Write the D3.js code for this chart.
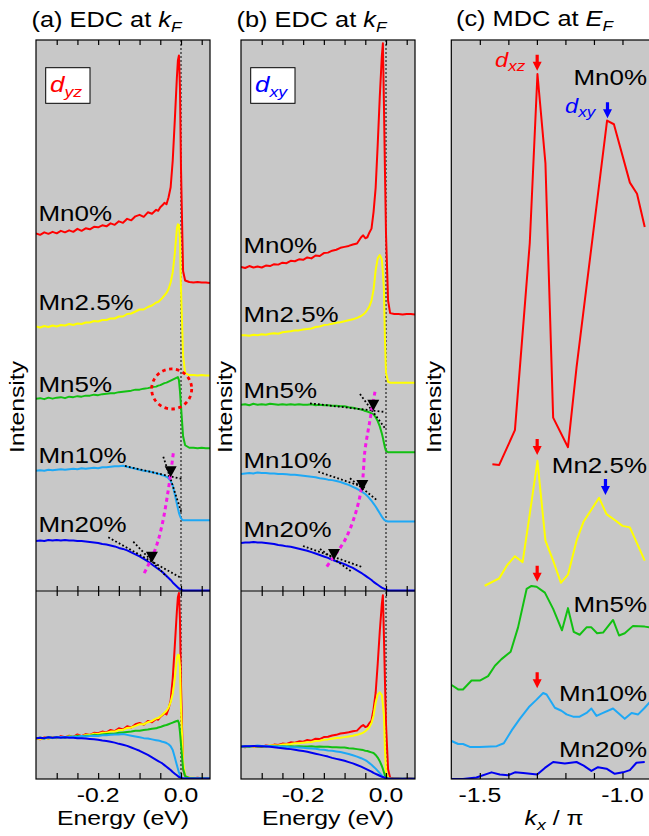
<!DOCTYPE html>
<html>
<head>
<meta charset="utf-8">
<script src="https://cdn.jsdelivr.net/npm/d3@7"></script>
<style>
  body { margin: 0; background: #fff; }
  svg { display: block; }
  text { font-family: "Liberation Sans", Arial, Helvetica, sans-serif; white-space: pre; }
</style>
</head>
<body>
<svg id="fig" width="649" height="836"></svg>
<script>
// ---------------- data ----------------
// binding energy grid (eV) shared by every EDC
const edcEnergies = [-0.35,-0.34,-0.33,-0.32,-0.31,-0.30,-0.29,-0.28,-0.27,-0.26,
  -0.25,-0.24,-0.23,-0.22,-0.21,-0.20,-0.19,-0.18,-0.17,-0.16,
  -0.15,-0.14,-0.13,-0.12,-0.11,-0.10,-0.09,-0.08,-0.07,-0.06,
  -0.055,-0.05,-0.045,-0.04,-0.035,-0.03,-0.025,-0.02,-0.015,
  -0.01,-0.0075,-0.005,-0.0025,0,
  0.005,0.01,
  0.02,0.03,0.04,0.05,0.06,0.07];

const dopingLabels = ["Mn0%", "Mn2.5%", "Mn5%", "Mn10%", "Mn20%"];

// EDCs at kF, d_yz band (normalised at -0.35 eV)
const edcDyzMn0 = [1.00,0.97,1.02,0.99,1.03,1.00,1.05,1.02,1.06,1.03, 1.09,1.05,1.10,1.08,1.13,1.12,1.16,1.14,1.20,1.17, 1.24,1.21,1.29,1.26,1.34,1.37,1.33,1.42,1.39,1.47, 1.45,1.52,1.56,1.61,1.58,1.72,1.92,2.45,3.25, 4.10,4.45,4.55,3.90,2.30, 0.25,0.06, 0.03,0.02,0.03,0.02,0.02,0.01];
const edcDyzMn2p5 = [1.00,0.98,1.01,0.99,1.02,1.00,1.03,1.02,1.05,1.03, 1.06,1.05,1.08,1.08,1.11,1.10,1.13,1.13,1.16,1.16, 1.20,1.20,1.25,1.26,1.30,1.34,1.34,1.39,1.42,1.48, 1.49,1.53,1.57,1.62,1.67,1.75,1.88,2.08,2.45, 2.95,3.04,3.03,2.75,1.75, 0.42,0.07, 0.03,0.03,0.02,0.03,0.02,0.02];
const edcDyzMn5 = [1.00,1.01,0.99,1.02,1.00,1.02,1.03,1.01,1.04,1.03, 1.05,1.04,1.06,1.06,1.08,1.07,1.09,1.10,1.11,1.11, 1.13,1.14,1.15,1.16,1.18,1.18,1.20,1.21,1.23,1.24, 1.26,1.27,1.29,1.31,1.32,1.34,1.36,1.38,1.40, 1.42,1.43,1.37,1.15,0.85, 0.25,0.07, 0.02,0.02,0.01,0.02,0.01,0.01];
const edcDyzMn10 = [1.00,1.01,1.00,1.02,1.01,1.02,1.03,1.02,1.03,1.04, 1.03,1.05,1.04,1.05,1.06,1.05,1.07,1.07,1.08,1.09, 1.09,1.10,1.08,1.06,1.04,1.02,1.00,0.99,0.97,0.95, 0.94,0.93,0.91,0.90,0.88,0.85,0.80,0.71,0.53, 0.34,0.25,0.16,0.10,0.05, 0.01,0.01, 0.01,0.01,0.01,0.01,0.01,0.01];
const edcDyzMn20 = [1.00,1.01,1.00,1.02,1.01,1.02,1.01,1.02,1.01,1.01, 1.00,1.00,0.99,0.98,0.97,0.96,0.94,0.93,0.91,0.89, 0.86,0.84,0.81,0.77,0.73,0.69,0.64,0.59,0.53,0.47, 0.44,0.41,0.38,0.34,0.30,0.26,0.22,0.17,0.13, 0.09,0.07,0.05,0.04,0.03, 0.01,0.01, 0.01,0.01,0.01,0.01,0.01,0.01];

// EDCs at kF, d_xy band
const edcDxyMn0 = [1.00,0.98,1.02,0.99,1.01,0.99,1.03,1.02,1.06,1.05, 1.09,1.08,1.13,1.12,1.16,1.15,1.20,1.18,1.24,1.23, 1.29,1.30,1.34,1.36,1.40,1.42,1.44,1.47,1.49,1.62, 1.66,1.60,1.62,1.72,1.80,2.15,2.65,3.55,4.55, 5.40,5.66,4.40,3.00,1.70, 0.30,0.04, 0.02,0.02,0.01,0.02,0.02,0.01];
const edcDxyMn2p5 = [1.00,1.00,0.99,1.01,1.00,1.02,1.01,1.03,1.04,1.03, 1.06,1.07,1.08,1.10,1.10,1.12,1.13,1.14,1.17,1.18, 1.21,1.22,1.24,1.26,1.27,1.29,1.31,1.33,1.36,1.40, 1.43,1.47,1.53,1.60,1.72,1.95,2.35,2.60,2.67, 2.58,2.30,1.95,0.90,0.22, 0.03,0.01, 0.01,0.01,0.01,0.01,0.01,0.01];
const edcDxyMn5 = [1.00,1.01,0.99,1.02,1.00,1.01,1.00,1.02,1.01,1.00, 1.01,1.00,1.01,1.00,1.01,1.00,1.00,1.01,0.99,1.00, 0.99,0.99,0.98,0.98,0.97,0.97,0.95,0.94,0.92,0.90, 0.89,0.87,0.86,0.84,0.82,0.80,0.74,0.66,0.55, 0.40,0.31,0.21,0.11,0.04, 0.01,0.01, 0.01,0.01,0.01,0.01,0.01,0.01];
const edcDxyMn10 = [1.00,1.01,1.02,1.01,1.03,1.02,1.02,1.01,1.01,1.00, 1.00,0.99,0.98,0.98,0.97,0.96,0.95,0.94,0.93,0.91, 0.90,0.88,0.87,0.85,0.83,0.80,0.77,0.73,0.69,0.64, 0.61,0.58,0.54,0.49,0.44,0.38,0.32,0.25,0.18, 0.11,0.08,0.05,0.03,0.02, 0.01,0.01, 0.01,0.01,0.01,0.01,0.01,0.01];
const edcDxyMn20 = [1.00,1.01,1.01,1.02,1.01,1.01,1.00,0.99,0.98,0.96, 0.95,0.93,0.92,0.90,0.88,0.86,0.84,0.81,0.78,0.75, 0.72,0.69,0.65,0.62,0.59,0.56,0.52,0.48,0.43,0.38, 0.35,0.32,0.29,0.26,0.23,0.19,0.16,0.13,0.10, 0.07,0.06,0.05,0.04,0.03, 0.01,0.01, 0.01,0.01,0.01,0.01,0.01,0.01];

// vertical offsets of the stacked EDCs (intensity units)
const edcOffsetsDyz = [6.14, 4.28, 2.84, 1.40, 0];
const edcOffsetsDxy = [5.75, 4.33, 2.88, 1.44, 0];

// MDCs at EF : momentum (kx / pi) and intensity
const mdcKMn0 = [-1.456,-1.432,-1.377,-1.325,-1.298,-1.270,-1.243,-1.191,-1.161,-1.054,-1.030,-0.974,-0.949,-0.922];
const mdcMn0  = [0.02,0.01,0.48,3.01,5.30,4.09,0.65,0.25,1.33,4.67,4.62,3.83,3.68,3.23];
const mdcKMn2p5 = [-1.483,-1.432,-1.404,-1.377,-1.350,-1.325,-1.298,-1.270,-1.243,-1.216,-1.191,-1.161,-1.136,-1.082,-1.056,-1.027,-1.000,-0.974,-0.922];
const mdcMn2p5  = [0.00,0.10,0.28,0.40,0.32,0.97,1.69,0.61,0.34,0.04,0.15,0.61,0.87,1.19,0.97,0.89,0.81,0.79,0.34];
const mdcKMn5 = [-1.599,-1.576,-1.559,-1.529,-1.500,-1.471,-1.447,-1.424,-1.392,-1.366,-1.336,-1.319,-1.301,-1.272,-1.243,-1.212,-1.191,-1.171,-1.150,-1.126,-1.109,-1.089,-1.068,-1.033,-1.012,-0.992,-0.963,-0.922,-0.905];
const mdcMn5  = [0.08,0.02,0.02,0.14,0.14,0.20,0.34,0.43,0.53,0.86,1.38,1.42,1.41,1.33,1.11,0.82,1.12,0.80,0.76,0.86,0.86,0.78,0.79,0.96,0.75,0.78,0.88,0.87,0.86];
const mdcKMn10 = [-1.599,-1.576,-1.559,-1.535,-1.500,-1.441,-1.416,-1.389,-1.360,-1.328,-1.301,-1.278,-1.266,-1.237,-1.214,-1.196,-1.173,-1.150,-1.126,-1.109,-1.091,-1.068,-1.033,-0.992,-0.968,-0.945,-0.922,-0.901];
const mdcMn10  = [0.08,0.04,0.04,0.00,0.00,0.01,0.05,0.22,0.38,0.54,0.64,0.73,0.71,0.53,0.49,0.44,0.41,0.41,0.46,0.52,0.42,0.46,0.52,0.38,0.46,0.44,0.53,0.62];
const mdcKMn20 = [-1.599,-1.559,-1.512,-1.459,-1.430,-1.401,-1.377,-1.348,-1.299,-1.272,-1.243,-1.202,-1.161,-1.136,-1.109,-1.086,-1.056,-1.027,-0.998,-0.974,-0.951,-0.922];
const mdcMn20  = [0.00,0.00,0.02,0.09,0.06,0.05,0.09,0.08,0.06,0.15,0.23,0.21,0.23,0.18,0.11,0.16,0.14,0.07,0.09,0.12,0.22,0.23];
const mdcOffsets = [4.24, 2.615, 1.192, 0.434, 0];

// peak positions marked by arrows in the MDC panel: [kx/pi, intensity, band]
const mdcPeakMarks = [[-1.299, 9.585, "xz"], [-1.0525, 8.94, "xy"], [-1.299, 4.384, "xz"],
                      [-1.0596, 3.843, "xy"], [-1.299, 2.67, "xz"], [-1.299, 1.227, "xz"]];

// kink positions (energy, stacked intensity) and the tangents that define them
const kinkDyz = [[-0.0249, 2.270], [-0.0702, 0.565]];
const kinkDxy = [[-0.0307, 3.756], [-0.0572, 2.083], [-0.1255, 0.646]];
const kinkTrendDyz = [[-0.0186, 2.749], [-0.0307, 2.016], [-0.0466, 1.284], [-0.0628, 0.819], [-0.091, 0.319]];
const kinkTrendDxy = [[-0.0266, 4.152], [-0.0386, 3.5625], [-0.0507, 2.9375], [-0.0579, 2.208],
                      [-0.0748, 1.583], [-0.099, 1.0625], [-0.1231, 0.75], [-0.1431, 0.506]];
const tangentsDyz = [[[-0.1352, 2.496], [0.0055, 2.230]], [[-0.0427, 2.681], [0.0017, 1.551]],
                     [[-0.1755, 1.072], [0.0017, 0.254]], [[-0.1151, 0.984], [-0.0345, 0.285]]];
const tangentsDxy = [[[-0.1834, 3.910], [-0.0065, 3.735]], [[-0.0628, 4.104], [-0.0024, 3.390]],
                     [[-0.1634, 2.485], [-0.0507, 2.156]], [[-0.0869, 2.348], [-0.0224, 1.896]],
                     [[-0.2003, 0.9375], [-0.0579, 0.5]], [[-0.1593, 0.875], [-0.0821, 0.396]]];
// quasiparticle peak of Mn5% d_yz: [energy, stacked intensity, radius in eV]
const peakCircleDyz = [-0.0225, 4.033, 0.0483];

const energyTicks = [-0.3, -0.25, -0.2, -0.15, -0.1, -0.05, 0, 0.05];
const energyTickLabels = [[-0.2, "-0.2"], [0, "0.0"]];
const momentumTicks = [-1.5, -1.4, -1.3, -1.2, -1.1, -1.0];
const momentumTickLabels = [[-1.5, "-1.5"], [-1.0, "-1.0"]];

// ---------------- styles ----------------
const dopingColors = ["#ff0000", "#ffff00", "#12c012", "#1ea8f5", "#0000f0"];
const BG = "#c8c8c8";
const MAGENTA = "#f516e8";
const SX = 1.18;                       // horizontal text stretch
const TOP = 40, SPLIT = 591, BOTTOM = 779;

const svg = d3.select("#fig");

function addText(g, x, y, parts, o) {
  const t = g.append("text")
    .attr("transform", `translate(${x},${y})` + (o.rotate ? ` rotate(${o.rotate})` : "") + ` scale(${SX},1)`)
    .attr("text-anchor", o.anchor || "start")
    .attr("font-size", o.size)
    .attr("fill", o.fill || "#000");
  if (typeof parts === "string") parts = [{ t: parts }];
  let shift = 0;
  parts.forEach(p => {
    const s = t.append("tspan").text(p.t);
    if (p.italic) s.attr("font-style", "italic");
    if (p.sub) {
      s.attr("font-size", o.subSize).attr("dy", (o.subShift || 5) - shift);
      shift = o.subShift || 5;
    } else if (shift) {
      s.attr("dy", -shift); shift = 0;
    }
  });
  return t;
}

function tickAxes(g, x, ticks, yTop, yBot, ySplit) {
  const clean = s => s.call(a => a.select(".domain").remove())
    .attr("color", "#000").selectAll("line").attr("stroke-width", 1.2);
  g.append("g").attr("transform", `translate(0,${yTop})`)
    .call(d3.axisTop(x).tickValues(ticks).tickSize(-5).tickFormat("")).call(clean);
  g.append("g").attr("transform", `translate(0,${yBot})`)
    .call(d3.axisBottom(x).tickValues(ticks).tickSize(-6).tickFormat("")).call(clean);
  if (ySplit != null) {
    g.append("g").attr("transform", `translate(0,${ySplit})`)
      .call(d3.axisTop(x).tickValues(ticks).tickSize(5).tickFormat("")).call(clean);
    g.append("g").attr("transform", `translate(0,${ySplit})`)
      .call(d3.axisBottom(x).tickValues(ticks).tickSize(5).tickFormat("")).call(clean);
  }
}

function downTriangle(g, px, py) {
  g.append("path")
    .attr("d", `M${px - 6},${py - 11}L${px + 6},${py - 11}L${px},${py}Z`)
    .attr("fill", "#000");
}

// ---------------- EDC panels ----------------
const edcPanels = [
  { id: "a", left: 36, right: 210, series: [edcDyzMn0, edcDyzMn2p5, edcDyzMn5, edcDyzMn10, edcDyzMn20],
    offsets: edcOffsetsDyz, topMax: 11.0, botMax: 4.6, orbital: "yz", orbColor: "#ff0000",
    kinks: kinkDyz, trend: kinkTrendDyz, tangents: tangentsDyz, circle: peakCircleDyz,
    labelX: 38.5, labelY: [220.5, 310, 391.7, 462.7, 532.3], titleX: 31.5, intensityX: 24 },
  { id: "b", left: 241, right: 415, series: [edcDxyMn0, edcDxyMn2p5, edcDxyMn5, edcDxyMn10, edcDxyMn20],
    offsets: edcOffsetsDxy, topMax: 11.48, botMax: 5.79, orbital: "xy", orbColor: "#0000ff",
    kinks: kinkDxy, trend: kinkTrendDxy, tangents: tangentsDxy, circle: null,
    labelX: 243.5, labelY: [253.3, 321.7, 398.3, 468.3, 537.3], titleX: 236.5, intensityX: 232 }
];

edcPanels.forEach(p => {
  const x = d3.scaleLinear().domain([-0.35, 0.07]).range([p.left, p.right]);
  const yTop = d3.scaleLinear().domain([0, p.topMax]).range([SPLIT, TOP]);
  const yBot = d3.scaleLinear().domain([0, p.botMax]).range([BOTTOM, SPLIT]);
  const g = svg.append("g");

  g.append("clipPath").attr("id", "clip-" + p.id).append("rect")
    .attr("x", p.left).attr("y", TOP).attr("width", p.right - p.left).attr("height", BOTTOM - TOP);
  g.append("rect").attr("x", p.left).attr("y", TOP)
    .attr("width", p.right - p.left).attr("height", BOTTOM - TOP).attr("fill", BG);

  const inner = g.append("g").attr("clip-path", `url(#clip-${p.id})`);

  // Fermi level
  inner.append("line").attr("x1", x(0)).attr("x2", x(0)).attr("y1", TOP).attr("y2", BOTTOM)
    .attr("stroke", "#000").attr("stroke-width", 1).attr("stroke-dasharray", "2,2");

  // stacked EDCs
  p.series.forEach((vals, i) => {
    const line = d3.line().x((d, j) => x(edcEnergies[j])).y(d => yTop(d + p.offsets[i]));
    inner.append("path").attr("d", line(vals)).attr("fill", "none")
      .attr("stroke", dopingColors[i]).attr("stroke-width", 2).attr("stroke-linejoin", "round");
  });
  // overlaid EDCs
  p.series.forEach((vals, i) => {
    const line = d3.line().x((d, j) => x(edcEnergies[j])).y(d => yBot(d));
    inner.append("path").attr("d", line(vals)).attr("fill", "none")
      .attr("stroke", dopingColors[i]).attr("stroke-width", 2).attr("stroke-linejoin", "round");
  });

  // tangents
  p.tangents.forEach(seg => {
    inner.append("line")
      .attr("x1", x(seg[0][0])).attr("y1", yTop(seg[0][1]))
      .attr("x2", x(seg[1][0])).attr("y2", yTop(seg[1][1]))
      .attr("stroke", "#000").attr("stroke-width", 1.8).attr("stroke-dasharray", "1.8,2.2");
  });
  // kink trend
  inner.append("path")
    .attr("d", d3.line().x(d => x(d[0])).y(d => yTop(d[1])).curve(d3.curveCatmullRom)(p.trend))
    .attr("fill", "none").attr("stroke", MAGENTA).attr("stroke-width", 3).attr("stroke-dasharray", "4,3.5");
  // kink markers
  p.kinks.forEach(k => downTriangle(inner, x(k[0]), yTop(k[1])));
  // circled peak
  if (p.circle) {
    const c = p.circle;
    inner.append("circle").attr("cx", x(c[0])).attr("cy", yTop(c[1]))
      .attr("r", x(c[0] + c[2]) - x(c[0]))
      .attr("fill", "none").attr("stroke", "#ff0000").attr("stroke-width", 2.8)
      .attr("stroke-dasharray", "3.5,3.5");
  }

  // doping labels
  dopingLabels.forEach((lab, i) => addText(g, p.labelX, p.labelY[i], lab, { size: 22 }));

  // orbital box
  const bx = p.left + 9.7;
  g.append("rect").attr("x", bx).attr("y", 67.7).attr("width", 44.3).attr("height", 35.6)
    .attr("fill", "#fff").attr("stroke", "#000").attr("stroke-width", 1);
  addText(g, bx + 4.3, 91.7, [{ t: "d", italic: true }, { t: p.orbital, italic: true, sub: true }],
    { size: 22, subSize: 15, subShift: 5, fill: p.orbColor });

  // frame
  g.append("rect").attr("x", p.left).attr("y", TOP).attr("width", p.right - p.left)
    .attr("height", BOTTOM - TOP).attr("fill", "none").attr("stroke", "#000").attr("stroke-width", 1.2);
  g.append("line").attr("x1", p.left).attr("x2", p.right).attr("y1", SPLIT).attr("y2", SPLIT)
    .attr("stroke", "#000").attr("stroke-width", 1.2);
  tickAxes(g, x, energyTicks, TOP, BOTTOM, SPLIT);

  energyTickLabels.forEach(([v, s]) => addText(g, x(v), 801.7, s, { size: 21, anchor: "middle" }));
  addText(g, (p.left + p.right) / 2, 824.5, "Energy (eV)", { size: 21, anchor: "middle" });
  addText(g, p.intensityX, 407, "Intensity", { size: 21, anchor: "middle", rotate: -90 });
  addText(g, p.titleX, 27, [{ t: `(${p.id}) EDC at ` }, { t: "k", italic: true }, { t: "F", italic: true, sub: true }],
    { size: 21.5, subSize: 14.5, subShift: 5 });
});

// ---------------- MDC panel ----------------
(function () {
  const left = 451.3, right = 651;
  const x = d3.scaleLinear().domain([-1.6, -0.9]).range([left, right]);
  const y = d3.scaleLinear().domain([0, 10]).range([BOTTOM, TOP]);
  const g = svg.append("g");
  g.append("clipPath").attr("id", "clip-c").append("rect")
    .attr("x", left).attr("y", TOP).attr("width", right - left).attr("height", BOTTOM - TOP);
  g.append("rect").attr("x", left).attr("y", TOP).attr("width", right - left)
    .attr("height", BOTTOM - TOP).attr("fill", BG);
  const inner = g.append("g").attr("clip-path", "url(#clip-c)");

  const ks = [mdcKMn0, mdcKMn2p5, mdcKMn5, mdcKMn10, mdcKMn20];
  const vs = [mdcMn0, mdcMn2p5, mdcMn5, mdcMn10, mdcMn20];
  vs.forEach((vals, i) => {
    const line = d3.line().x((d, j) => x(ks[i][j])).y(d => y(d + mdcOffsets[i]));
    inner.append("path").attr("d", line(vals)).attr("fill", "none")
      .attr("stroke", dopingColors[i]).attr("stroke-width", 2).attr("stroke-linejoin", "round");
  });

  // peak arrows
  mdcPeakMarks.forEach(([k, v, band]) => {
    const px = x(k), py = y(v);
    const col = band === "xz" ? "#ff0000" : "#0000ff";
    inner.append("path")
      .attr("d", `M${px - 1.6},${py - 16}L${px + 1.6},${py - 16}L${px + 1.6},${py - 9}L${px + 4.5},${py - 9}L${px},${py}L${px - 4.5},${py - 9}L${px - 1.6},${py - 9}Z`)
      .attr("fill", col);
  });

  addText(g, 495, 67.3, [{ t: "d", italic: true }, { t: "xz", italic: true, sub: true }],
    { size: 20, subSize: 14.5, subShift: 4, fill: "#ff0000" });
  addText(g, 565, 113.3, [{ t: "d", italic: true }, { t: "xy", italic: true, sub: true }],
    { size: 20, subSize: 14.5, subShift: 4, fill: "#0000ff" });

  const mdcLabelY = [85, 473.3, 611.7, 700.7, 756.7];
  dopingLabels.forEach((lab, i) => addText(g, 647, mdcLabelY[i], lab, { size: 22, anchor: "end" }));

  g.append("rect").attr("x", left).attr("y", TOP).attr("width", right - left)
    .attr("height", BOTTOM - TOP).attr("fill", "none").attr("stroke", "#000").attr("stroke-width", 1.2);
  tickAxes(g, x, momentumTicks, TOP, BOTTOM, null);

  momentumTickLabels.forEach(([v, s]) => addText(g, x(v), 801.7, s, { size: 21, anchor: "middle" }));
  addText(g, 554, 824.5, [{ t: "k", italic: true }, { t: "x", italic: true, sub: true }, { t: " / π" }],
    { size: 21, subSize: 15, subShift: 5 , anchor: "middle" });
  addText(g, 441, 407, "Intensity", { size: 21, anchor: "middle", rotate: -90 });
  addText(g, 456, 26, [{ t: "(c) MDC at " }, { t: "E", italic: true }, { t: "F", italic: true, sub: true }],
    { size: 21.5, subSize: 14.5, subShift: 5 });
})();
</script>
</body>
</html>
